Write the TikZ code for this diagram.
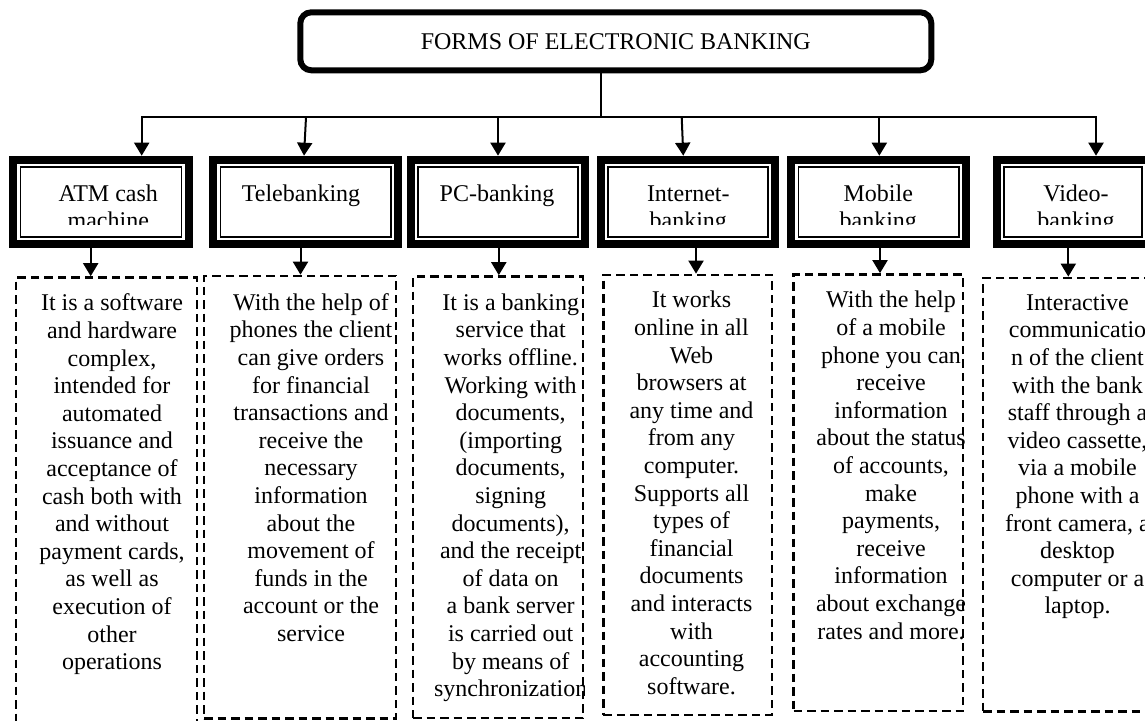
\documentclass[tikz,border=0pt]{standalone}
\usepackage{fontspec}
\setmainfont{Liberation Serif}
\usetikzlibrary{arrows.meta}
\begin{document}
\begin{tikzpicture}[x=1pt,y=-1pt,
  every node/.style={font=\fontsize{24}{27.6}\selectfont},
  topbox/.style={draw, line width=6pt, rounded corners=11pt, inner sep=0pt, outer sep=3pt, minimum width=631pt, minimum height=58pt},
  lbox/.style={draw, line width=8pt, inner sep=0pt, outer sep=4pt, minimum height=84.6pt},
  inframe/.style={line width=1.6pt},
  dbox/.style={draw, line width=2.7pt, dash pattern=on 8.5pt off 5pt, inner sep=0pt, outer sep=1.35pt},
  txt/.style={align=center, inner sep=0pt, anchor=north},
  conn/.style={line width=2pt},
  arr/.style={line width=2pt, -{Triangle[width=15pt,length=13pt]}},
]
\useasboundingbox (0,0) rectangle (1145,720);
\clip (0,0) rectangle (1145,720);
\fill[white] (0,0) rectangle (1145,720);

% title
\node[topbox] (top) at (615.8,41.3) {FORMS OF ELECTRONIC BANKING};

% label boxes
\node[lbox, minimum width=175.4pt] (atm) at (101,202) {};
\node[lbox, minimum width=185pt]   (tele) at (305.8,202) {};
\node[lbox, minimum width=174.6pt] (pc) at (498,202) {};
\node[lbox, minimum width=174.6pt] (inet) at (688,202) {};
\node[lbox, minimum width=174.7pt] (mob) at (878.65,202) {};
\node[lbox, minimum width=152.3pt] (vid) at (1072.85,202) {};
\foreach \b in {atm,tele,pc,inet,mob,vid}{
  \draw[inframe] ([shift={(11.3,11.3)}]\b.north west) rectangle ([shift={(-11.3,-11.3)}]\b.south east);
}

% label texts (second line clipped as in the reference)
\begin{scope}
\clip (0,160) rectangle (1145,224.5);
\node[txt] (atmt) at (108.3,181.7) {\strut ATM cash\\machine};
\node[txt] (telet) at (301,181.7) {\strut Telebanking};
\node[txt] (pct) at (497,181.7) {\strut PC-banking};
\node[txt] (inett) at (688.3,181.7) {\strut Internet-\\banking};
\node[txt] (mobt) at (878.3,181.7) {\strut Mobile\\banking};
\node[txt] (vidt) at (1076,181.7) {\strut Video-\\banking};
\end{scope}

% description boxes
\node[dbox, minimum width=181pt, minimum height=457.5pt] (d1) at (106.5,506.25) {};
\node[dbox, minimum width=192pt, minimum height=442.5pt] (d2) at (300,497.25) {};
\node[dbox, minimum width=170pt, minimum height=441.5pt] (d3) at (498,497.25) {};
\node[dbox, minimum width=168.7pt, minimum height=440pt] (d4) at (687.65,495) {};
\node[dbox, minimum width=169.5pt, minimum height=436.5pt] (d5) at (878.25,492.75) {};
\node[dbox, minimum width=192pt, minimum height=433.5pt] (d6) at (1079,494.75) {};

\begin{scope}
\clip (d1.north west) rectangle (d1.south east);
\node[txt] (t1) at (112,291.4) {\strut It is a software\\and hardware\\complex,\\intended for\\automated\\issuance and\\acceptance of\\cash both with\\and without\\payment cards,\\as well as\\execution of\\other\\operations};
\end{scope}
\begin{scope}
\clip (d2.north west) rectangle (d2.south east);
\node[txt] (t2) at (311,290.7) {\strut With the help of\\phones the client\\can give orders\\for financial\\transactions and\\receive the\\necessary\\information\\about the\\movement of\\funds in the\\account or the\\service};
\end{scope}
\begin{scope}
\clip (d3.north west) rectangle (d3.south east);
\node[txt] (t3) at (510.7,290.7) {\strut It is a banking\\service that\\works offline.\\Working with\\documents,\\(importing\\documents,\\signing\\documents),\\and the receipt\\of data on\\a bank server\\is carried out\\by means of\\synchronization};
\end{scope}
\begin{scope}
\clip (d4.north west) rectangle (d4.south east);
\node[txt] (t4) at (691.5,288.4) {\strut It works\\online in all\\Web\\browsers at\\any time and\\from any\\computer.\\Supports all\\types of\\financial\\documents\\and interacts\\with\\accounting\\software.};
\end{scope}
\begin{scope}
\clip (d5.north west) rectangle (d5.south east);
\node[txt] (t5) at (891,288.4) {\strut With the help\\of a mobile\\phone you can\\receive\\information\\about the status\\of accounts,\\make\\payments,\\receive\\information\\about exchange\\rates and more.};
\end{scope}
\begin{scope}
\clip (d6.north west) rectangle (d6.south east);
\node[txt] (t6) at (1077.5,290.7) {\strut Interactive\\communicatio\\n of the client\\with the bank\\staff through a\\video cassette,\\via a mobile\\phone with a\\front camera, a\\desktop\\computer or a\\laptop.};
\end{scope}

% connectors from the title
\coordinate (hub) at (600.7,117.3);
\coordinate (hl) at (141.7,117.3);
\coordinate (hr) at (1096,117.3);
\coordinate (h2) at (306,117.3);
\coordinate (h3) at (498,117.3);
\coordinate (h4) at (681.7,117.3);
\coordinate (h5) at (879.3,117.3);
\draw[conn] (top.south -| hub) -- (hub);
\draw[arr] (hub) -- (hl) -- (atm.north -| hl);
\draw[arr] (hub) -- (hr) -- (vid.north -| hr);
\draw[arr] (h2) -- ([xshift=-1.8pt]tele.north);
\draw[arr] (h3) -- (pc.north);
\draw[arr] (h4) -- ([xshift=-4.7pt]inet.north);
\draw[arr] (h5) -- (mob.north -| h5);

% connectors from label boxes to descriptions
\draw[arr] (atm.south -| 90.7,0) -- (d1.north -| 90.7,0);
\draw[arr] (tele.south -| 300.5,0) -- (d2.north -| 300.5,0);
\draw[arr] (pc.south -| 498.8,0) -- (d3.north -| 498.8,0);
\draw[arr] (inet.south -| 696,0) -- (d4.north -| 696,0);
\draw[arr] (mob.south -| 880,0) -- (d5.north -| 880,0);
\draw[arr] (vid.south -| 1068.3,0) -- (d6.north -| 1068.3,0);
\end{tikzpicture}
\end{document}
